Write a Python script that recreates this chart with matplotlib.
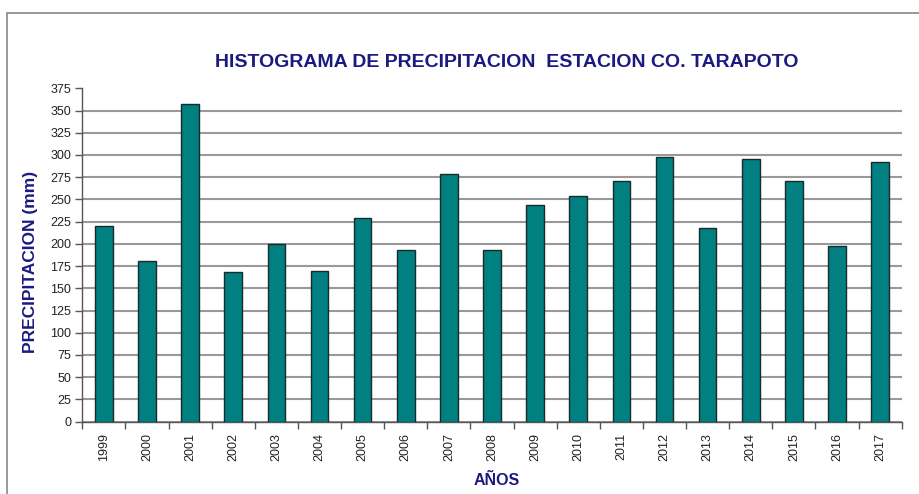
import numpy as np
import matplotlib
matplotlib.use("Agg")
import matplotlib.pyplot as plt
from matplotlib.patches import Rectangle

plt.rcParams['font.family'] = ['Liberation Sans', 'DejaVu Sans']

years = ["1999", "2000", "2001", "2002", "2003", "2004", "2005", "2006", "2007", "2008",
         "2009", "2010", "2011", "2012", "2013", "2014", "2015", "2016", "2017"]
precip = [220, 181, 357, 168, 200, 170, 229, 193, 279, 193,
          244, 254, 271, 298, 218, 296, 271, 198, 292]
yticks = list(range(0, 376, 25))

NAVY = "#1a1a80"
TEAL = "#008080"

fig = plt.figure(figsize=(9.19, 4.94), dpi=100)
ax = fig.add_axes([0.0896, 0.1464, 0.8916, 0.6749])

x = np.arange(len(years))
ax.bar(x, precip, width=0.41, color=TEAL, edgecolor="#1a2a2a", linewidth=1.0, zorder=3)

ax.set_xlim(-0.5, len(years) - 0.5)
ax.set_ylim(0, 375)
ax.set_yticks(yticks)
ax.set_yticklabels([str(v) for v in yticks], fontsize=9, color="#222222")
ax.set_xticks(x)
ax.set_xticklabels(years, rotation=90, fontsize=9, color="#222222")
ax.set_xticks(np.arange(-0.5, len(years), 1), minor=True)
ax.tick_params(axis="x", which="major", length=0, pad=8)
ax.tick_params(axis="x", which="minor", length=5, width=1, color="#555555", direction="out")
ax.tick_params(axis="y", length=5, width=1, color="#555555", direction="out", pad=3)

ax.yaxis.grid(True, color="#999999", linewidth=1.5, zorder=0)
ax.get_ygridlines()[-1].set_visible(False)
ax.set_axisbelow(True)

for s in ["top", "right"]:
    ax.spines[s].set_visible(False)
for s in ["left", "bottom"]:
    ax.spines[s].set_color("#555555")
    ax.spines[s].set_linewidth(1.0)

fig.text(0.551, 0.874, "HISTOGRAMA DE PRECIPITACION  ESTACION CO. TARAPOTO",
         ha="center", va="center", fontsize=14, fontweight="bold", color=NAVY)
fig.text(30 / 919, (494 - 262) / 494, "PRECIPITACION (mm)", rotation=90,
         ha="center", va="center", fontsize=12.5, fontweight="bold", color=NAVY)
fig.text(0.541, 0.028, "AÑOS", ha="center", va="center", fontsize=11.5,
         fontweight="bold", color=NAVY)

fig.add_artist(Rectangle((7 / 919, -0.1), 2, (494 - 12.5) / 494 + 0.1,
                         transform=fig.transFigure, fill=False,
                         edgecolor="#888888", linewidth=1.2))

fig.savefig("out.png", dpi=100)
